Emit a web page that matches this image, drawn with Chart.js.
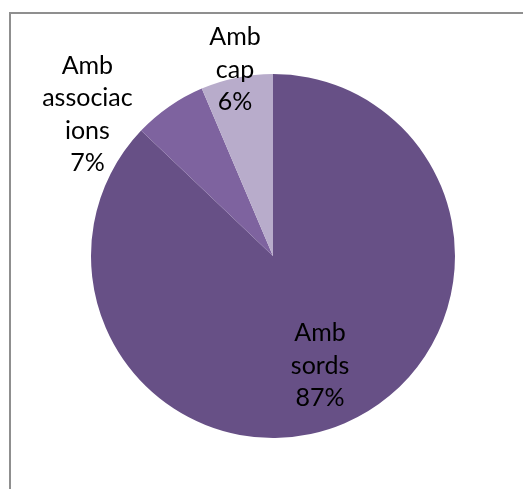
<!DOCTYPE html>
<html>
<head>
<meta charset="utf-8">
<script src="https://cdn.jsdelivr.net/npm/chart.js@4/dist/chart.umd.min.js"></script>
<style>
  html, body { margin: 0; padding: 0; background: #ffffff; overflow: hidden; }
  body { width: 523px; height: 489px; position: relative; }
  #frame { position: absolute; left: 9px; top: 12px; width: 700px; height: 700px;
           border: 2px solid #8f8f8f; box-sizing: border-box; }
  #wrap { position: absolute; left: 0; top: 0; width: 523px; height: 489px; }
</style>
</head>
<body>
<div id="frame"></div>
<div id="wrap"><canvas id="c" width="523" height="489"></canvas></div>
<script>
// ---- data ----
const categories = ['Amb sords', 'Amb associacions', 'Amb cap'];
const shares = [87.1, 6.5, 6.4];
const sliceColors = ['#675086', '#7e639f', '#b8accb'];

// label placement relative to each slice (radius factor, angle shift in degrees)
const labelPlacement = [
  { r: 0.656, shift: 0 },
  { r: 1.283, shift: -17.9 },
  { r: 1.045, shift: 0 }
];

function wrapLabel(text) {
  const out = [];
  text.split(' ').forEach(w => {
    while (w.length > 8) { out.push(w.slice(0, 8)); w = w.slice(8); }
    out.push(w);
  });
  return out;
}

const total = shares.reduce((a, b) => a + b, 0);

const labelPlugin = {
  id: 'pieLabels',
  afterDatasetsDraw(chart) {
    const meta = chart.getDatasetMeta(0);
    const ctx = chart.ctx;
    ctx.save();
    ctx.font = '25px Lato, Carlito, "Open Sans", sans-serif';
    ctx.fillStyle = '#000000';
    ctx.textAlign = 'center';
    ctx.textBaseline = 'middle';
    const lh = 32.5;
    meta.data.forEach((arc, i) => {
      const p = arc.getProps(['x', 'y', 'startAngle', 'endAngle', 'outerRadius'], true);
      const place = labelPlacement[i];
      const mid = (p.startAngle + p.endAngle) / 2 + place.shift * Math.PI / 180;
      const rr = p.outerRadius * place.r;
      const cx = p.x + Math.cos(mid) * rr;
      const cy = p.y + Math.sin(mid) * rr;
      const pct = Math.round(shares[i] / total * 100) + '%';
      const lines = wrapLabel(categories[i]).concat([pct]);
      const y0 = cy - (lines.length - 1) * lh / 2;
      lines.forEach((t, k) => ctx.fillText(t, cx, y0 + k * lh));
    });
    ctx.restore();
  }
};

new Chart(document.getElementById('c'), {
  type: 'pie',
  data: {
    labels: categories,
    datasets: [{
      data: shares,
      backgroundColor: sliceColors,
      borderWidth: 0
    }]
  },
  options: {
    responsive: false,
    animation: false,
    layout: { padding: { left: 91, right: 68, top: 74, bottom: 51 } },
    plugins: {
      legend: { display: false },
      tooltip: { enabled: false }
    }
  },
  plugins: [labelPlugin]
});
</script>
</body>
</html>
